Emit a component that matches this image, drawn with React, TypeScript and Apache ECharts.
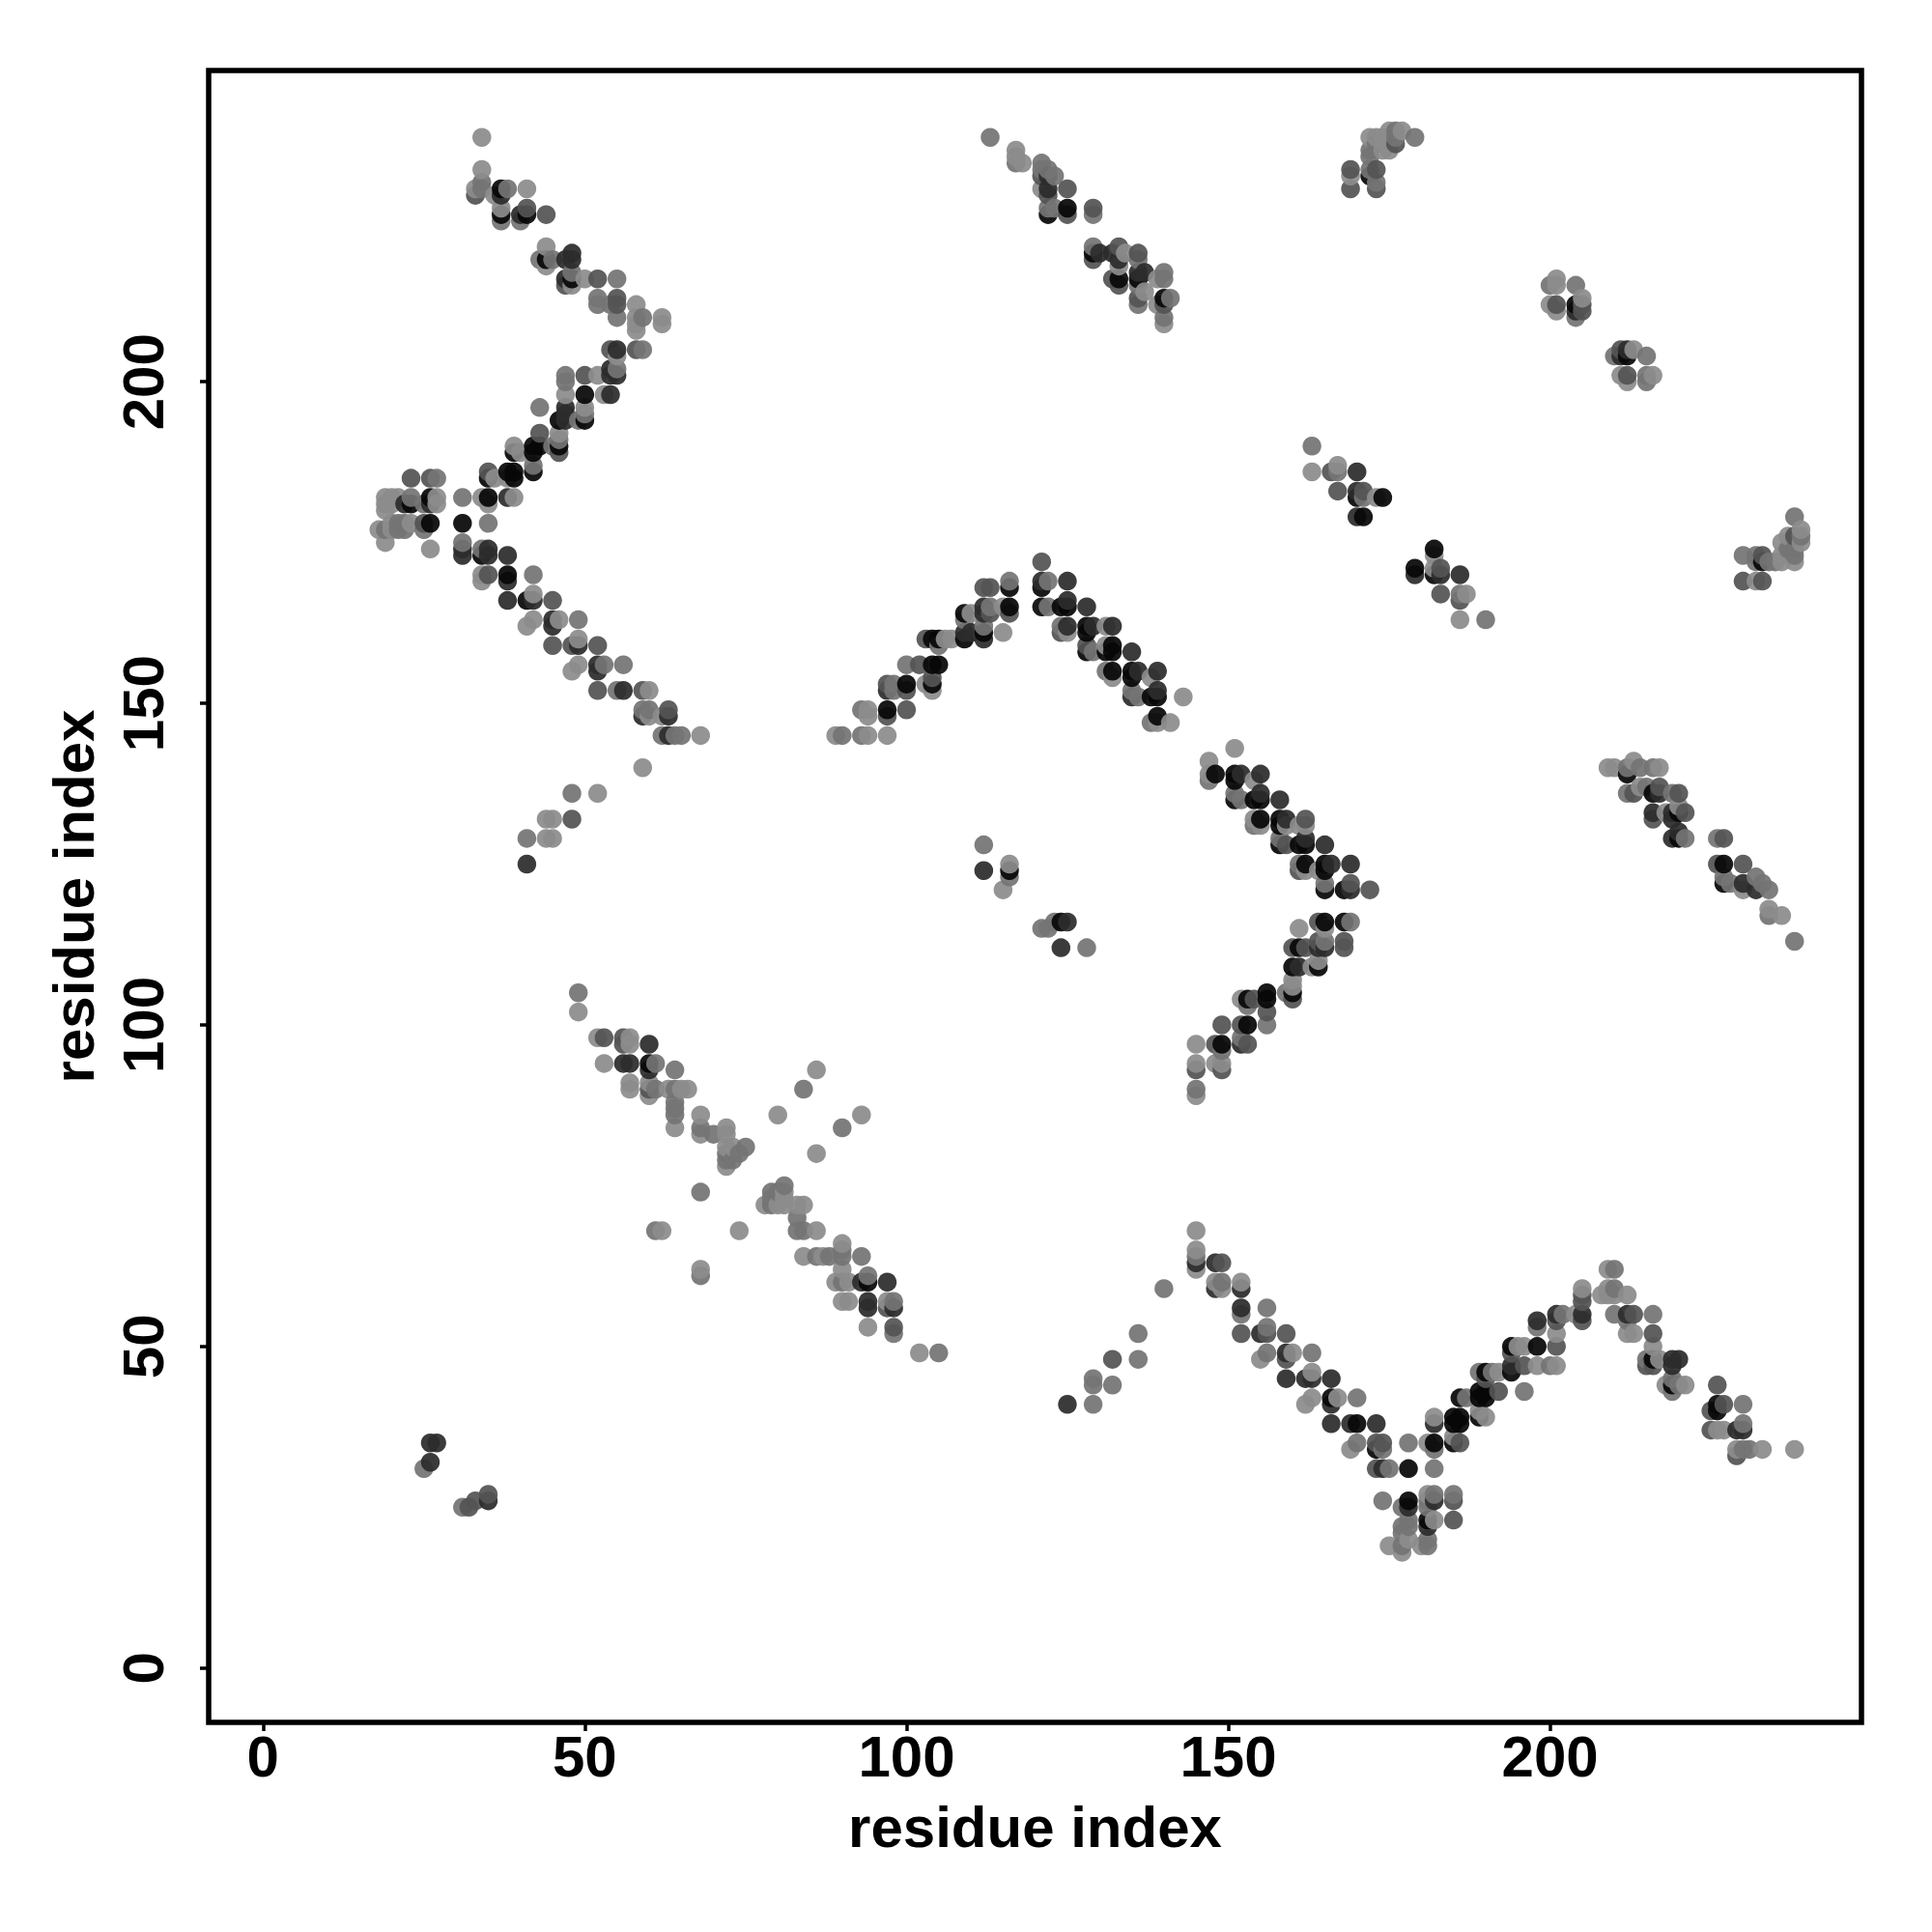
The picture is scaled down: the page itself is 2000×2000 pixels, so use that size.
import React, { useEffect, useRef } from "react";
import * as echarts from "echarts";

// [x, y, shade]; shade: 0 black, 1 dark, 2 dark grey, 3 grey, 4 light grey
type P = [number, number, number];
const shades = ["#080808", "#2c2c2c", "#545454", "#747474", "#8c8c8c"];
const tickValues = [0, 50, 100, 150, 200];
const axisTitle = "residue index";

const upperLeftTop: P[] = [
  [34,238,4],[34,233,4],[34,231,3],[33,230,4],[33,229,2],[34,230,3],[37,230,0],[37,229,1],[38,230,3],[41,230,4],[36,229,4],
  [37,227,4],[37,226,0],[37,225,3],[40,226,1],[40,225,3],[41,227,2],[41,226,0],[44,226,2],
  [44,221,4],[43,219,3],[44,219,0],[44,218,4],[45,219,3],[47,219,1],[48,220,1],[48,219,1],[48,217,3],[47,216,1],[47,215,2],[48,216,0],[48,215,4],[50,216,4],[52,216,2],[55,216,3],
  [52,213,3],[52,212,3],[54,212,3],[55,213,2],[55,212,2],[55,210,3],[58,212,4],[59,210,3],[58,210,4],[58,209,4],[58,208,4],[62,210,4],[62,209,4],
  [54,205,2],[55,205,1],[58,205,2],[59,205,3],[55,204,4],[54,202,1],[55,202,3],[55,201,1],[54,201,1],[47,201,3],[47,200,3],[50,201,2],[52,201,4],[47,198,4],[50,198,0],[53,198,4],[54,198,1],
  [43,196,3],[47,196,1],[47,195,1],[46,194,0],[47,194,1],[50,196,4],[50,195,3],[50,194,0],[49,194,3],
  [43,192,2],[46,192,4],[46,191,3],[46,190,0],[46,189,2],[42,190,0],[43,190,0],[42,189,0],[45,190,3],[39,190,4],[39,189,0],[40,189,4],
  [42,187,3],[42,186,0],[35,186,2],[35,185,0],[36,185,4],[38,186,0],[39,186,0],[39,185,0],[38,185,4],
];
const upperLeftMid: P[] = [
  [23,185,2],[26,185,2],[27,185,3],
  [23,182,3],[26,182,0],[27,182,4],[31,182,3],[34,182,4],[35,182,0],[38,182,1],[39,182,4],
  [19,181,4],[20,181,4],[19,182,4],[20,182,4],[21,182,4],[22,181,1],[23,181,0],[25,181,3],[26,181,1],[27,181,4],[35,181,4],[19,180,4],
  [20,178,4],[21,178,3],[22,178,3],[23,178,4],[25,178,2],[26,178,0],[31,178,0],[35,178,3],
  [18,177,4],[19,177,3],[20,177,4],[21,177,3],[22,177,3],[25,177,3],
  [19,175,4],[26,174,4],[31,175,3],[31,174,1],[31,173,1],[34,174,3],[35,174,1],[34,173,0],[35,173,1],[38,173,1],[42,170,3],
  [34,170,4],[34,169,4],[35,170,2],[38,170,0],[38,169,1],[38,166,1],[41,166,0],[42,166,1],[42,167,4],[45,166,2],
  [41,162,4],[42,163,4],[45,163,1],[45,162,1],[46,163,4],[49,163,3],[45,159,2],[48,159,2],[49,159,1],[49,160,4],[52,159,2],
  [48,155,4],[49,156,4],[52,156,1],[52,155,1],[53,156,3],[56,156,3],[52,152,2],[55,152,3],[56,152,1],[59,152,2],[60,152,4],
  [59,149,3],[60,149,3],[59,148,1],[60,148,4],[62,148,4],[63,149,2],[63,148,1],
  [62,145,3],[63,145,1],[64,145,3],[65,145,3],[68,145,4],
  [59,140,4],[48,136,3],[52,136,4],[44,132,4],[45,132,4],[48,132,2],[41,129,3],[44,129,4],[45,129,4],[41,125,1],
];
const centerArch: P[] = [
  [89,145,4],[90,145,3],[93,145,3],[94,145,4],[97,145,4],
  [93,149,3],[94,149,4],[97,149,0],[100,149,2],[94,148,4],[97,148,2],
  [97,153,2],[98,153,3],[100,153,0],[97,152,1],[98,152,3],[100,152,2],
  [100,156,3],[102,156,2],[104,156,0],[105,156,0],[103,153,4],[104,154,2],[104,153,0],[104,152,4],
  [103,160,2],[104,160,0],[105,160,0],[106,160,4],[107,160,4],[105,159,3],[109,161,1],[109,160,0],[110,161,1],[112,162,3],[112,161,0],[112,160,1],[115,161,4],
  [109,164,0],[110,164,4],[109,163,3],[112,165,1],[112,164,1],[113,165,3],[113,164,2],[115,165,4],[116,165,0],[116,164,2],
  [112,168,2],[113,168,2],[116,169,3],[116,168,0],
  [121,172,2],[121,169,1],[121,168,0],[122,169,3],[125,169,1],
  [121,165,0],[122,165,3],[124,165,0],[125,166,1],[125,165,0],[128,165,1],
  [124,162,3],[124,161,2],[125,162,1],[125,161,4],[128,162,0],[128,161,0],[129,162,1],
  [131,162,4],[132,162,1],[131,159,4],[132,159,0],[132,158,0],[131,158,0],[128,159,2],[128,158,0],[129,158,3],[135,158,1],
  [131,155,3],[132,155,0],[132,154,4],[135,155,0],[136,155,1],[135,154,0],[139,155,1],[138,154,4],
  [135,152,3],[135,151,1],[136,151,3],[138,151,0],[139,152,1],[139,151,0],[143,151,4],
  [139,148,0],[138,147,3],[139,147,4],[141,147,4],
];
const rightChevron: P[] = [
  [151,143,4],[147,141,4],[147,139,4],[147,138,3],[148,139,0],[151,139,0],[151,138,0],[152,139,1],[154,138,4],[155,139,1],
  [151,136,3],[151,135,0],[152,135,3],[154,135,0],[155,136,1],[155,135,0],[158,135,1],
  [154,132,4],[154,131,3],[155,132,0],[155,131,4],[158,132,0],[158,131,0],[159,132,1],[159,131,4],[161,131,4],[162,132,2],[162,131,4],
  [158,129,3],[158,128,0],[159,128,2],[161,128,0],[162,129,1],[162,128,0],[165,128,1],
  [161,125,3],[161,124,2],[162,125,0],[162,124,4],[164,124,4],[165,125,0],[165,124,0],[166,125,1],[169,125,1],
  [165,122,3],[165,121,0],[168,121,0],[169,122,2],[169,121,1],[172,121,2],
  [161,115,4],[164,116,2],[165,116,0],[168,116,0],[169,116,3],[165,115,4],
  [160,112,2],[161,112,0],[162,112,2],[164,113,2],[164,112,1],[165,113,3],[165,112,1],[168,113,2],[168,112,2],
  [160,109,0],[161,109,1],[163,109,4],[164,110,4],[164,109,0],
  [160,107,4],[160,106,4],[159,105,3],[160,105,0],[160,104,2],
  [156,105,0],[156,104,0],[152,104,4],[153,104,0],[154,104,2],[153,103,3],[156,102,2],[156,100,3],
  [149,100,2],[152,100,2],[153,100,0],[152,98,3],[145,97,4],[148,97,2],[149,97,0],[152,97,1],[153,97,2],[149,96,3],
  [145,94,4],[145,93,2],[148,94,4],[149,94,4],[149,93,2],[145,90,3],[145,89,4],
];
const lowerDiagonal: P[] = [
  [49,105,3],[49,102,4],[52,98,4],[53,98,2],[56,98,2],[57,98,4],[56,97,2],[57,97,4],[60,97,1],
  [53,94,4],[56,94,1],[57,94,1],[60,94,0],[60,93,1],[61,94,3],[64,93,3],[57,91,4],[57,90,4],[60,91,4],[60,90,2],[60,89,4],[61,90,3],[63,90,4],[64,90,3],[65,90,4],[66,90,4],
  [64,88,3],[64,87,3],[64,86,3],[64,84,4],
  [68,86,4],[68,84,3],[68,83,4],[70,83,3],[72,84,4],[72,83,4],[72,81,4],[72,80,3],[72,79,3],[72,78,4],[73,81,4],[73,79,3],[74,80,3],[75,81,3],
  [80,86,4],[86,93,4],[84,90,3],[93,86,4],[90,84,3],[86,80,4],[68,74,3],[61,68,3],[62,68,4],[74,68,4],[68,62,4],[68,61,3],
  [81,75,3],[80,74,3],[79,74,3],[81,74,4],[78,72,4],[79,72,3],[80,72,4],[81,72,4],[79,73,3],[81,73,4],[83,72,4],[84,72,4],[83,70,3],[83,68,3],[84,68,3],[86,68,4],
  [84,64,4],[86,64,3],[87,64,4],[88,64,3],[90,66,4],[90,65,3],[90,64,3],[90,62,4],[93,64,3],[89,60,4],[90,60,3],[91,60,4],[93,60,1],[94,60,0],[94,61,3],[97,60,1],
  [90,57,4],[91,57,4],[94,57,1],[94,56,1],[97,57,4],[98,57,3],[97,56,2],[98,56,1],[94,53,4],[98,53,2],[98,52,3],[102,49,4],[105,49,3],
];
const lowerRight: P[] = [
  [145,68,4],[145,65,4],[145,64,3],[145,63,1],[145,62,4],[148,63,1],[149,63,2],[148,60,4],[149,60,3],[148,59,1],[149,59,4],[152,60,4],[152,59,1],
  [152,56,1],[152,55,3],[156,56,3],[152,52,2],[155,52,1],[156,52,2],[156,53,3],[159,52,2],
  [155,48,4],[156,49,3],[159,49,1],[159,48,2],[160,49,4],[163,49,3],
  [159,45,1],[162,45,1],[163,45,1],[163,46,4],[166,45,1],
  [162,41,4],[163,42,4],[166,42,0],[166,41,1],[167,42,4],[170,42,3],
  [166,38,1],[169,38,1],[170,38,0],[173,38,1],
  [169,34,4],[170,35,3],[173,35,2],[174,35,2],[173,34,0],[174,34,3],[178,35,3],[181,35,4],[182,35,0],[182,34,3],
  [182,39,4],[182,38,1],[185,39,0],[186,39,0],[185,38,0],[186,38,0],[185,36,4],[185,35,0],[186,35,2],
  [173,31,2],[174,31,1],[175,31,3],[178,31,0],[182,31,3],
  [174,26,3],[178,26,0],[177,25,3],[178,25,1],[181,27,4],[182,27,3],[181,26,3],[182,26,1],[185,27,3],[185,26,2],[181,25,3],
  [182,23,4],[181,23,0],[185,23,2],[181,22,1],[178,23,3],[177,22,3],[178,22,3],[177,21,3],[178,20,4],[175,19,4],[180,19,4],[181,20,3],[181,19,3],[177,19,3],[177,18,4],
  [189,39,0],[190,39,4],[189,40,4],[186,42,0],[187,42,3],[189,43,0],[190,43,0],[189,42,0],[190,42,0],[192,43,2],[190,45,2],
  [189,46,3],[190,46,0],[191,46,3],[192,46,4],[194,47,1],[194,46,0],[196,47,2],[198,47,4],[200,47,3],[201,47,4],[196,43,3],
  [194,50,0],[194,49,2],[195,50,4],[196,50,4],[198,50,0],[201,50,2],[201,52,4],[198,54,1],[198,53,3],[201,55,1],[201,54,2],[202,55,3],[204,55,4],
  [209,62,4],[210,62,3],[205,59,4],[205,58,2],[205,57,2],[209,59,4],[210,59,3],[208,58,4],[209,58,4],[210,58,4],[212,58,4],
  [205,55,1],[205,54,2],[210,55,3],[212,55,1],[213,55,2],[216,55,3],[212,52,4],[213,52,4],[212,54,3],[216,52,2],[216,50,4],
  [215,48,3],[216,48,0],[215,47,2],[216,47,2],[217,48,4],[219,48,1],[220,48,1],[219,47,1],
  [218,44,4],[219,45,3],[219,44,0],[219,43,3],[220,44,3],[221,44,4],
  [226,44,2],[225,40,2],[226,41,0],[227,41,2],[226,40,0],[230,41,3],
  [225,37,2],[226,37,4],[227,37,4],[230,38,3],[229,37,1],[230,37,1],[229,34,4],[229,33,2],[230,34,3],[231,34,3],[233,34,4],[238,34,4],
];
const topMiddle: P[] = [
  [113,238,3],[117,236,4],[117,235,4],[117,234,3],[118,234,4],
  [121,234,3],[121,233,3],[121,232,2],[122,233,3],[122,232,1],[123,232,3],[121,230,4],[122,230,1],[122,229,2],[125,230,2],
  [122,227,3],[123,227,3],[122,226,0],[125,227,0],[125,226,2],[129,227,2],[129,226,3],
  [129,221,3],[129,220,0],[129,219,2],[130,220,1],[133,221,2],[132,220,1],[133,219,1],[134,220,4],[136,220,2],[136,219,3],
  [133,218,4],[133,216,0],[132,216,2],[133,215,2],[136,217,1],[137,217,1],[136,216,0],[136,215,3],[137,214,4],[139,216,4],[140,217,3],[140,216,3],
  [136,213,2],[136,212,3],[139,212,4],[140,213,0],[141,213,3],[140,212,2],[140,210,3],[140,209,4],
  [169,233,2],[169,232,4],[169,230,2],[173,233,2],[172,232,0],[173,231,3],[173,230,2],[172,236,3],[172,235,3],[172,233,3],[172,238,4],[173,238,4],[174,238,4],[174,236,4],[175,236,4],[175,239,4],[176,239,3],[177,239,4],[176,238,3],[176,237,2],[179,238,3],[173,237,3],
];
const upperRight: P[] = [
  [163,190,3],[163,186,4],[166,186,2],[167,186,3],[167,187,4],[170,186,1],
  [167,183,2],[170,183,1],[171,183,2],[170,182,0],[171,182,3],[173,182,4],[174,182,0],[170,179,1],[171,179,0],
  [182,174,0],[182,173,4],[179,171,0],[179,170,1],[182,171,4],[182,170,0],[183,171,2],[183,170,1],[186,170,1],
  [183,167,2],[186,167,3],[186,166,2],[187,167,4],[186,163,4],[190,163,3],
  [200,215,3],[201,216,4],[201,215,4],[204,215,3],[200,212,4],[201,212,2],[201,211,4],[204,212,0],[204,211,1],[204,210,3],[205,213,4],[205,212,2],[205,211,2],
  [210,204,3],[211,205,2],[211,204,1],[212,205,1],[212,204,0],[213,205,4],[215,204,3],[211,201,4],[212,201,2],[212,200,4],[215,201,3],[215,200,3],[216,201,4],
  [238,179,3],[239,177,4],[238,176,2],[239,176,3],[239,175,4],[236,175,4],[237,176,4],[238,174,3],[238,173,3],[238,172,4],[237,174,3],[236,173,4],[235,172,3],[236,172,4],[234,172,3],
  [230,173,3],[232,173,3],[233,173,2],[233,172,0],[232,172,3],[230,169,2],[232,169,4],[233,169,2],
];
const rightLower: P[] = [
  [209,140,4],[210,140,4],[212,140,3],[213,141,4],[212,139,0],[214,140,3],[216,140,3],[217,140,4],
  [212,136,3],[213,136,2],[214,137,4],[215,137,3],[216,136,0],[217,137,2],[217,136,1],[219,136,3],[220,136,2],
  [216,133,1],[216,132,2],[218,133,4],[219,133,1],[220,133,0],[221,133,2],[219,132,1],[220,134,4],
  [219,129,1],[220,129,0],[221,129,3],[220,130,1],
  [226,129,3],[227,129,2],[226,125,2],[227,125,0],[230,125,2],
  [227,123,3],[227,122,0],[228,122,3],[230,122,1],[230,121,4],[232,123,3],[232,121,1],[233,122,3],[234,121,3],
  [234,118,4],[234,117,3],[236,117,4],[238,113,3],
];
const smallClusters: P[] = [
  [112,128,3],[112,124,1],[116,125,4],[116,124,0],[116,123,3],[115,121,4],[121,115,3],[122,115,3],[123,116,3],[124,116,0],[125,116,1],[124,112,1],[128,112,3],
  [125,41,1],[129,41,3],[129,45,3],[129,44,3],[132,44,3],[132,48,2],[136,48,3],[136,52,3],[140,59,3],
  [26,32,1],[25,31,3],[26,35,1],[27,35,1],[31,25,3],[32,25,2],[35,26,1],[35,27,2],[33,26,2],
];

const allPoints: P[] = [
  ...upperLeftTop, ...upperLeftMid, ...centerArch, ...rightChevron, ...lowerDiagonal,
  ...lowerRight, ...topMiddle, ...upperRight, ...rightLower, ...smallClusters,
].sort((a, b) => a[0] - b[0] || a[1] - b[1]);

const FONT = '"Liberation Sans", Arial, Helvetica, sans-serif';

export default function App() {
  const ref = useRef<HTMLDivElement>(null);
  useEffect(() => {
    const chart = echarts.init(ref.current!, undefined, { renderer: "svg" });
    const axis = (extra: any) => ({
      type: "value",
      min: -8.45,
      max: 248.4,
      splitLine: { show: false },
      axisLine: { show: false, onZero: false },
      axisTick: { show: true, length: 9, lineStyle: { color: "#000", width: 3.5 }, customValues: tickValues },
      axisLabel: {
        show: true, color: "#000", fontFamily: FONT, fontWeight: "bold", fontSize: 60,
        customValues: tickValues, hideOverlap: false, showMinLabel: true, showMaxLabel: true,
        ...extra.label,
      },
      name: axisTitle,
      nameLocation: "middle",
      nameGap: extra.gap,
      nameRotate: extra.nameRotate,
      nameTextStyle: { color: "#000", fontFamily: FONT, fontWeight: "bold", fontSize: 60 },
    });
    chart.setOption({
      animation: false,
      backgroundColor: "#fff",
      grid: { left: 216, right: 73, top: 73, bottom: 217, show: true, borderColor: "#000", borderWidth: 5.5, backgroundColor: "transparent" },
      xAxis: axis({ gap: 78, label: { margin: 5 } }),
      yAxis: axis({ gap: 110, nameRotate: 90, label: { rotate: 90, margin: 68, verticalAlign: "middle", align: "center" } }),
      series: [{
        type: "scatter",
        symbol: "circle",
        symbolSize: 19.5,
        silent: true,
        data: allPoints.map((p) => ({
          value: [p[0], p[1]],
          itemStyle: { color: shades[p[2]], opacity: 0.93 },
        })),
      }],
    });
    return () => chart.dispose();
  }, []);
  return <div ref={ref} style={{ position: "absolute", left: 0, top: 0, width: 2000, height: 2000 }} />;
}
